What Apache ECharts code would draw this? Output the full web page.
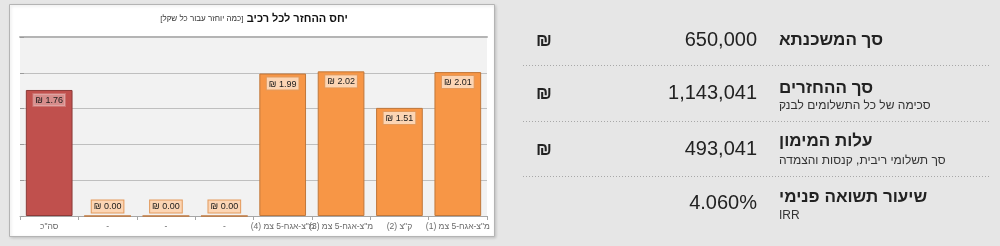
<!DOCTYPE html>
<html>
<head>
<meta charset="utf-8">
<script src="https://cdn.jsdelivr.net/npm/echarts@6/dist/echarts.min.js"></script>
<style>
    html, body { margin: 0; padding: 0; background: #e6e6e6; }
    #mortgage_chart { width: 1000px; height: 246px; }
</style>
</head>
<body>
<div id="mortgage_chart" dir="rtl"></div>

<script>
// Chart data
// ------------------------------

var categories = ['סה"כ', '-', '-', '-', 'מ"צ-אגח-5 צמ (4)', 'מ"צ-אגח-5 צמ (3)', 'ק"צ (2)', 'מ"צ-אגח-5 צמ (1)'];
var ratios = [1.76, 0, 0, 0, 1.99, 2.02, 1.51, 2.01];

var chartTitle = 'יחס ההחזר לכל רכיב';
var chartSubtitle = '[כמה יוחזר עבור כל שקל]';

// Summary panel
var panelTitles = ['סך המשכנתא', 'סך ההחזרים', 'עלות המימון', 'שיעור תשואה פנימי'];
var panelNotes = ['', 'סכימה של כל התשלומים לבנק', 'סך תשלומי ריבית, קנסות והצמדה', 'IRR'];
var panelValues = ['650,000', '1,143,041', '493,041', '4.060%'];
var panelUnits = ['₪', '₪', '₪', ''];


// Setup module
// ------------------------------

var MortgageRatioChart = function() {

    var _init = function() {
        if (typeof echarts == 'undefined') {
            console.warn('Warning - echarts.min.js is not loaded.');
            return;
        }

        var element = document.getElementById('mortgage_chart');
        var chart = echarts.init(element, null, { renderer: 'canvas' });

        // Bars: first one is the total, in red
        var barData = ratios.map(function(v, i) {
            var isTotal = i === 0;
            var label = {
                position: v === 0 ? 'top' : 'insideTop',
                distance: v === 0 ? 3 : 4,
                backgroundColor: isTotal ? 'rgba(255,255,255,0.35)' : '#fcd5b4',
                borderColor: isTotal ? 'rgba(255,255,255,0.2)' : '#e39a5c',
                borderWidth: 1
            };
            return {
                value: v,
                itemStyle: {
                    color: isTotal ? '#c0504d' : '#f79646',
                    borderColor: isTotal ? '#8c3a38' : '#c0773a',
                    borderWidth: 1
                },
                label: label
            };
        });

        // Summary panel graphics
        var rowTitleY = [40, 88, 141, 197];
        var rowNoteY = [0, 106, 161, 216];
        var rowValueY = [40, 93, 149, 203];
        var separatorY = [65, 121, 176];

        var graphics = [
            {
                type: 'rect',
                z: -10,
                shape: { x: 9.5, y: 4.5, width: 485, height: 232 },
                style: {
                    fill: '#ffffff',
                    stroke: '#b4b4b4',
                    lineWidth: 1,
                    shadowBlur: 3,
                    shadowColor: 'rgba(0,0,0,0.15)',
                    shadowOffsetX: 1,
                    shadowOffsetY: 1
                }
            },
            {
                type: 'text',
                x: 254,
                y: 19,
                style: {
                    text: '{s|' + chartSubtitle + '} {b|' + chartTitle + '}',
                    align: 'center',
                    verticalAlign: 'middle',
                    rich: {
                        s: { fontSize: 8, fontFamily: 'Arial, sans-serif', fill: '#333' },
                        b: { fontSize: 11, fontWeight: 'bold', fontFamily: 'Arial, sans-serif', fill: '#111' }
                    }
                }
            }
        ];

        separatorY.forEach(function(y) {
            graphics.push({
                type: 'line',
                shape: { x1: 523, y1: y + 0.5, x2: 991, y2: y + 0.5 },
                style: { stroke: '#a8a8a8', lineWidth: 1, lineDash: [1, 2] }
            });
        });

        panelTitles.forEach(function(t, i) {
            graphics.push({
                type: 'text',
                x: 779,
                y: rowTitleY[i],
                style: {
                    text: t,
                    align: 'left',
                    verticalAlign: 'middle',
                    font: 'bold 17px Arial, sans-serif',
                    fill: '#222'
                }
            });
            if (panelNotes[i]) {
                graphics.push({
                    type: 'text',
                    x: 779,
                    y: rowNoteY[i],
                    style: {
                        text: panelNotes[i],
                        align: 'left',
                        verticalAlign: 'middle',
                        font: '12px Arial, sans-serif',
                        fill: '#333'
                    }
                });
            }
            graphics.push({
                type: 'text',
                x: 757,
                y: rowValueY[i],
                style: {
                    text: panelValues[i],
                    align: 'right',
                    verticalAlign: 'middle',
                    font: '20px Arial, sans-serif',
                    fill: '#222'
                }
            });
            if (panelUnits[i]) {
                graphics.push({
                    type: 'text',
                    x: 544,
                    y: rowValueY[i] + 1,
                    style: {
                        text: panelUnits[i],
                        align: 'center',
                        verticalAlign: 'middle',
                        font: 'bold 18px Arial, sans-serif',
                        fill: '#222'
                    }
                });
            }
        });


        //
        // Chart config
        //

        chart.setOption({
            animation: false,
            backgroundColor: '#e6e6e6',

            textStyle: {
                fontFamily: 'Arial, sans-serif'
            },

            // Setup grid
            grid: {
                left: 20,
                right: 513,
                top: 37,
                bottom: 30,
                show: true,
                backgroundColor: '#f2f2f2',
                borderWidth: 0
            },

            graphic: graphics,

            // Horizontal axis
            xAxis: [
                {
                    type: 'category',
                    data: categories,
                    boundaryGap: true,
                    axisLine: { lineStyle: { color: '#a6a6a6' } },
                    axisTick: { show: true, interval: 0, length: 4, lineStyle: { color: '#a6a6a6' } },
                    axisLabel: {
                        interval: 0,
                        margin: 6,
                        fontSize: 8.5,
                        color: '#6a6a6a',
                        fontFamily: 'Arial, sans-serif'
                    }
                },
                {
                    type: 'category',
                    position: 'top',
                    data: categories,
                    axisLine: { lineStyle: { color: '#b4b4b4', width: 2 } },
                    axisTick: { show: false },
                    axisLabel: { show: false }
                }
            ],

            // Vertical axis
            yAxis: [{
                type: 'value',
                min: 0,
                max: 2.5,
                interval: 0.5,
                axisLine: { show: false },
                axisTick: { show: true, inside: true, length: 4, lineStyle: { color: '#9a9a9a' } },
                axisLabel: { show: false },
                splitLine: { lineStyle: { color: '#bfbfbf' } }
            }],

            // Add series
            series: [{
                type: 'bar',
                barCategoryGap: '20%',
                data: barData,
                label: {
                    show: true,
                    fontSize: 9,
                    color: '#1a1a1a',
                    fontFamily: 'Arial, sans-serif',
                    padding: [2, 2, 1, 2],
                    formatter: function(p) {
                        return p.value.toFixed(2) + ' ₪';
                    }
                }
            }]
        });

        window.addEventListener('resize', function() {
            chart.resize();
        });
    };

    return {
        init: function() {
            _init();
        }
    }
}();


// Initialize module
// ------------------------------

document.addEventListener('DOMContentLoaded', function() {
    MortgageRatioChart.init();
});
</script>
</body>
</html>
